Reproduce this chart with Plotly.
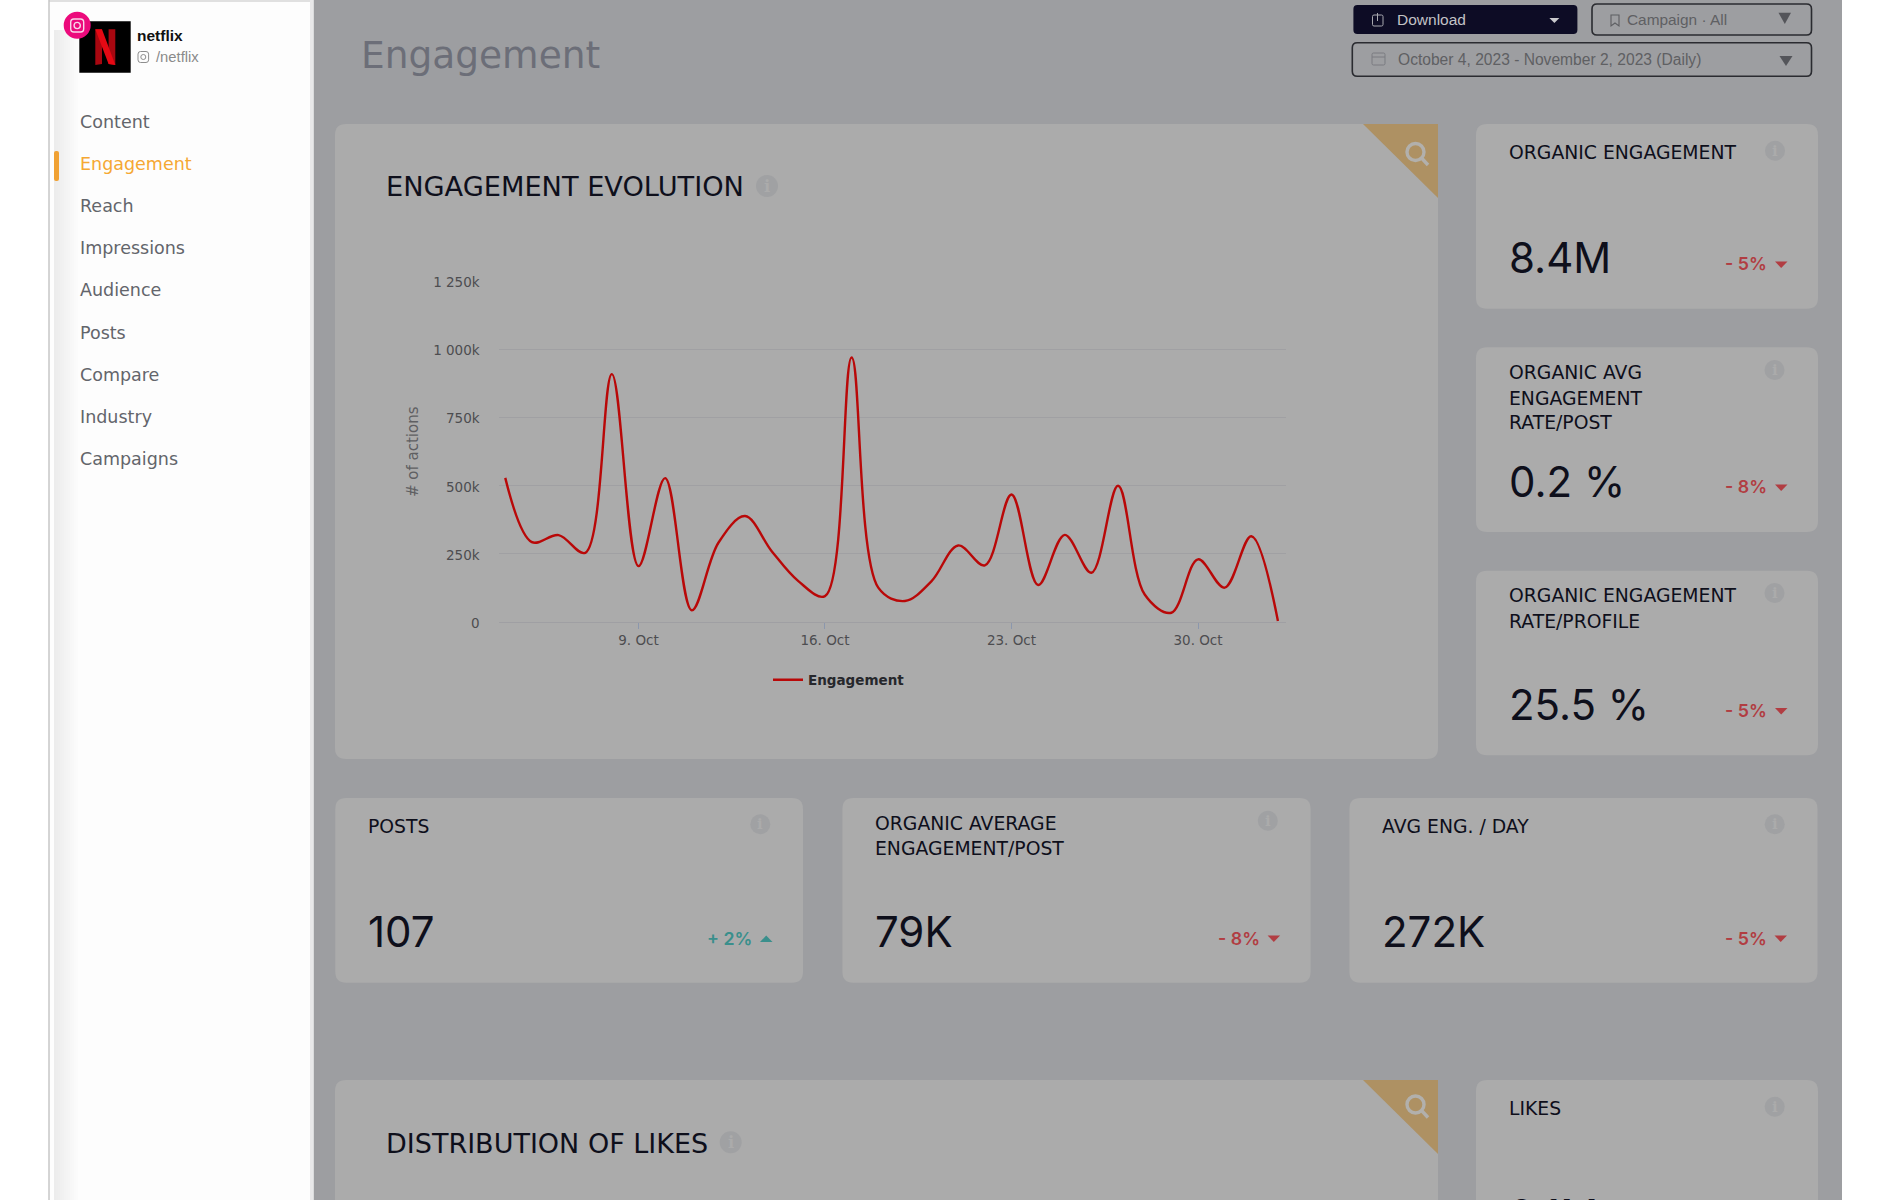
import plotly.graph_objects as go

# ---------- data ----------
dates = ["2023-10-%02d" % d for d in range(4, 32)] + ["2023-11-01", "2023-11-02"]
engagement = [529000, 293000, 319000, 254000, 910000, 205000, 528000, 43000, 291000, 389000,
              260000, 150000, 95000, 971000, 126000, 77000, 150000, 281000, 208000, 468000,
              136000, 320000, 181000, 500000, 101000, 34000, 230000, 126000, 315000, 4000]
y_ticks = [0, 250000, 500000, 750000, 1000000, 1250000]
y_labels = ["0", "250k", "500k", "750k", "1 000k", "1 250k"]
x_ticks = ["2023-10-09", "2023-10-16", "2023-10-23", "2023-10-30"]
x_labels = ["9. Oct", "16. Oct", "23. Oct", "30. Oct"]
series_name = "Engagement"
y_title = "# of actions"
menu = ["Content", "Engagement", "Reach", "Impressions", "Audience", "Posts", "Compare", "Industry", "Campaigns"]
page_title = "Engagement"
chart_title = "ENGAGEMENT EVOLUTION"
second_title = "DISTRIBUTION OF LIKES"
date_range = "October 4, 2023 - November 2, 2023 (Daily)"

W, H = 1890, 1200
SANS = "DejaVu Sans"
NUM = "Inter"
UI = "Liberation Sans"
CHART = "DejaVu Sans"
BG, CARD, TAN = "#9d9ea1", "#ababab", "#ae9163"
INK, RED, GREEN = "#0e0f1b", "#b13d42", "#3a8f8c"
INFO = "#a0a1a3"

px = lambda x: x / W
py = lambda y: 1 - y / H
shapes, notes = [], []


def poly(pts, fill, line=None, lw=0):
    d = "M" + " L".join(f"{px(x):.6f},{py(y):.6f}" for x, y in pts) + " Z"
    shapes.append(dict(type="path", path=d, xref="paper", yref="paper", layer="below", fillcolor=fill,
                       line=dict(color=line or "rgba(0,0,0,0)", width=lw)))


def rect(x0, y0, x1, y1, fill, line=None, lw=0):
    shapes.append(dict(type="rect", x0=px(x0), x1=px(x1), y0=py(y0), y1=py(y1), xref="paper", yref="paper",
                       layer="below", fillcolor=fill, line=dict(color=line or "rgba(0,0,0,0)", width=lw)))


def rrect(x0, y0, x1, y1, r, fill, line=None, lw=0):
    c = lambda x, y: f"{px(x):.6f},{py(y):.6f}"
    d = (f"M{c(x0 + r, y0)} L{c(x1 - r, y0)} Q{c(x1, y0)} {c(x1, y0 + r)} L{c(x1, y1 - r)} Q{c(x1, y1)} {c(x1 - r, y1)} "
         f"L{c(x0 + r, y1)} Q{c(x0, y1)} {c(x0, y1 - r)} L{c(x0, y0 + r)} Q{c(x0, y0)} {c(x0 + r, y0)} Z")
    shapes.append(dict(type="path", path=d, xref="paper", yref="paper", layer="below", fillcolor=fill,
                       line=dict(color=line or "rgba(0,0,0,0)", width=lw)))


def circle(cx, cy, r, fill, line=None, lw=0):
    shapes.append(dict(type="circle", x0=px(cx - r), x1=px(cx + r), y0=py(cy - r), y1=py(cy + r),
                       xref="paper", yref="paper", layer="below", fillcolor=fill,
                       line=dict(color=line or "rgba(0,0,0,0)", width=lw)))


def seg(x0, y0, x1, y1, color, lw):
    shapes.append(dict(type="line", x0=px(x0), x1=px(x1), y0=py(y0), y1=py(y1), xref="paper", yref="paper",
                       layer="below", line=dict(color=color, width=lw)))


def text(x, y, s, size, color, family=SANS, anchor="left", weight=None):
    f = dict(size=size, color=color, family=family)
    if weight:
        f["weight"] = weight
    notes.append(dict(x=px(x), y=py(y), xref="paper", yref="paper", text=s, showarrow=False, xanchor=anchor,
                      yanchor="middle", borderpad=0, font=f, align=anchor))


def info(cx, cy, r=10):
    circle(cx, cy, r, INFO)
    text(cx, cy, "i", r * 1.5, CARD, family="DejaVu Serif", anchor="center", weight=700)


def magnifier(top, cy):
    cx = 1415.5
    poly([(1363, top), (1438, top), (1438, top + 74)], TAN)
    circle(cx, cy, 8.5, "rgba(0,0,0,0)", "#b2b0ac", 3.4)
    seg(cx + 6.5, cy + 6.5, cx + 12.5, cy + 13, "#b2b0ac", 3.4)


def card(x0, y0, x1, y1, title_lines, title_ys, value, value_y, delta, delta_y, info_xy, up=False):
    rrect(x0, y0, x1, y1, 11, CARD)
    tx = x0 + 32
    for s, y in zip(title_lines, title_ys):
        text(tx, y, s, TITLE_SIZE, INK)
    if value:
        text(tx, value_y, value, VALUE_SIZE, INK, family=NUM)
    if delta:
        col = GREEN if up else RED
        tri_x = x1 - 43
        text(tri_x - 7, delta_y, delta, DELTA_SIZE, col, family=NUM, anchor="right", weight=600)
        if up:
            poly([(tri_x, delta_y + 4), (tri_x + 12.5, delta_y + 4), (tri_x + 6.2, delta_y - 2.5)], col)
        else:
            poly([(tri_x, delta_y - 2.5), (tri_x + 12.5, delta_y - 2.5), (tri_x + 6.2, delta_y + 4)], col)
    info(*info_xy)


TITLE_SIZE, VALUE_SIZE, DELTA_SIZE = 18.8, 42, 17.8

# page frame
rect(49, 0, 1842, H, BG)
rect(49, 0, 313.5, H, "#fdfdfd")
seg(49, 0, 49, H, "#b9b9b9", 1.2)
seg(49, 1, 313, 1, "#c4c4c4", 1.2)
rect(310, 0, 313.5, H, "#e8e8e9")
for i in range(12):
    v = 236 + i * 17 // 12
    rect(54 + i * 2, 30, 56 + i * 2, H, f"rgb({v},{v},{v})")

# profile block
rect(79.3, 21.3, 130.7, 72.7, "#000000")
poly([(95.3, 29.3), (102, 29.3), (102, 64), (95.3, 65)], "#a80710")
poly([(108.6, 29.3), (115.3, 29.3), (115.3, 65), (108.6, 64)], "#a80710")
poly([(95.3, 29.3), (102, 29.3), (115.3, 65), (108.6, 64)], "#e50914")
circle(77.2, 25.3, 13.5, "#ec0a7c")
rrect(70.7, 19, 83.7, 32, 3.2, "rgba(0,0,0,0)", "#f8d6e8", 1.4)
circle(77.2, 25.5, 3.1, "rgba(0,0,0,0)", "#f8d6e8", 1.4)
text(135.5, 35, "netflix", 15.5, "#111111", family=UI, weight=700)
rrect(138, 51.5, 148.6, 62.5, 2.6, "rgba(0,0,0,0)", "#8d8d8d", 1)
circle(143.3, 57, 2.5, "rgba(0,0,0,0)", "#8d8d8d", 1)
text(154.5, 57, "/netflix", 14.8, "#8a8a8a", family=UI)

# menu
for i, item in enumerate(menu):
    text(78.5, 122 + i * 42.1, item, 17.5, "#f5a833" if item == "Engagement" else "#63656b")
rrect(54, 151, 59, 181, 2, "#f0a133")

# header
text(359.5, 55, page_title, 37.5, "#6c6e78")
rrect(1353.4, 5, 1577.4, 34, 4, "#0d0c25")
text(1395.5, 19.2, "Download", 15.5, "#c2c2c6", family=UI)
poly([(1549.4, 18), (1559.4, 18), (1554.4, 23)], "#c9c9cd")
rrect(1372.5, 15, 1383, 26, 1.5, "rgba(0,0,0,0)", "#a9a9b0", 1)
seg(1377.5, 13, 1377.5, 21, "#a9a9b0", 1)
rrect(1592, 4, 1811.5, 35, 5, "rgba(0,0,0,0)", "#2a2b30", 1.6)
poly([(1611, 15), (1619, 15), (1619, 26), (1615, 23), (1611, 26)], "rgba(0,0,0,0)", "#5d5e62", 1.1)
text(1626, 19.2, "Campaign \u00b7 All", 15.4, "#5f6063", family=UI)
poly([(1778.5, 12.7), (1791, 12.7), (1784.8, 24)], "#54555a")
rrect(1352.3, 42.7, 1811.5, 76.3, 5, "rgba(0,0,0,0)", "#2a2b30", 1.6)
rrect(1372, 53, 1385, 65, 1.5, "rgba(0,0,0,0)", "#7a7b80", 1)
seg(1372, 57, 1385, 57, "#7a7b80", 1)
text(1396.5, 59, date_range, 15.6, "#5f6063", family=UI)
poly([(1779.5, 56), (1792.5, 56), (1786, 66)], "#54555a")

# main panels
rrect(335, 124, 1438, 759, 11, CARD)
rect(1300, 124, 1438, 140, CARD)
rrect(335, 1080, 1438, 1300, 11, CARD)
rect(1300, 1080, 1438, 1100, CARD)
magnifier(124, 152)
magnifier(1080, 1104.5)
text(384.5, 187, chart_title, 27.2, INK)
info(767, 186, 11)
text(384.5, 1143, second_title, 27, INK)
info(730.7, 1142.3, 11)

# KPI cards
card(1476, 124, 1818, 308.7, ["ORGANIC ENGAGEMENT"], [152.7], "8.4M", 258, "- 5%", 264, (1775, 150.7))
card(1476, 347.3, 1818, 532, ["ORGANIC AVG", "ENGAGEMENT", "RATE/POST"], [372.3, 398, 422.7], "0.2 %", 481.7, "- 8%", 487, (1774.5, 370))
card(1476, 570.7, 1818, 755.3, ["ORGANIC ENGAGEMENT", "RATE/PROFILE"], [595.7, 621], "25.5 %", 704, "- 5%", 710.5, (1774.5, 593))
card(335.3, 798, 803, 982.7, ["POSTS"], [826.7], "107", 931.7, "+ 2%", 938, (760.3, 824.3), up=True)
card(842.4, 798, 1310.6, 982.7, ["ORGANIC AVERAGE", "ENGAGEMENT/POST"], [823, 848.4], "79K", 931.7, "- 8%", 938, (1267.8, 820.7))
card(1349.4, 798, 1817.5, 982.7, ["AVG ENG. / DAY"], [826.7], "272K", 931.7, "- 5%", 938, (1774.7, 824.3))
card(1476, 1080, 1818, 1300, ["LIKES"], [1108.3], "2.1M", 1214, None, 0, (1774.7, 1106.7))

fig = go.Figure(go.Scatter(x=dates, y=engagement, name=series_name, mode="lines",
                           line=dict(color="#b90808", width=2.4, shape="spline", smoothing=1.0),
                           showlegend=True, cliponaxis=False))

fig.update_layout(
    width=W, height=H, margin=dict(l=0, r=0, t=0, b=0, autoexpand=False), autosize=False,
    paper_bgcolor="#ffffff", plot_bgcolor="rgba(0,0,0,0)",
    shapes=shapes, annotations=notes, hovermode=False,
    xaxis=dict(domain=[px(498.6), px(1285.7)], type="date", range=["2023-10-03 18:00", "2023-11-02 07:00"],
               tickmode="array", tickvals=x_ticks, ticktext=x_labels, showgrid=False, zeroline=False,
               showline=True, linecolor="#9f9fa3", linewidth=1, ticks="outside", ticklen=6, tickcolor="#8b97ad",
               tickwidth=1, ticklabelstandoff=0, tickfont=dict(family=CHART, size=13.5, color="#4d4d50")),
    yaxis=dict(domain=[py(622), py(281.5)], range=[0, 1250000], tickmode="array", tickvals=y_ticks, ticktext=y_labels,
               showgrid=True, gridcolor="#a0a0a3", gridwidth=1, zeroline=False, showline=False, ticks="",
               ticklabelstandoff=18, ticklabelshift=1, tickfont=dict(family=CHART, size=13.5, color="#4d4d50"),
               title=dict(text=y_title, standoff=10, font=dict(family=CHART, size=15, color="#5f5f62"))),
    legend=dict(orientation="h", x=px(768), y=py(680), xanchor="left", yanchor="middle", bgcolor="rgba(0,0,0,0)",
                font=dict(family=CHART, size=13.5, color="#26272b", weight=700), itemclick=False, itemdoubleclick=False),
)

fig.write_html("out.html", post_script="document.body.style.margin='0';document.body.style.overflow='hidden';",
               config=dict(displayModeBar=False))
